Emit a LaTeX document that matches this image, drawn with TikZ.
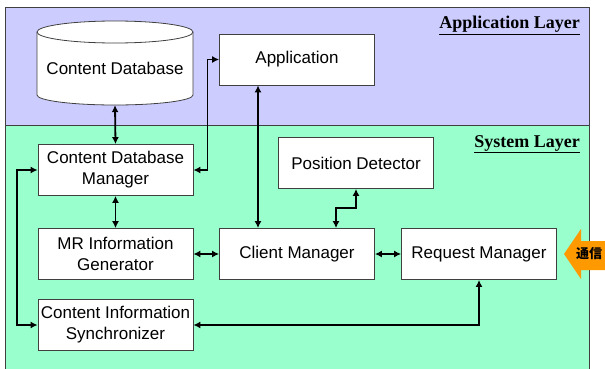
\documentclass[tikz,border=0pt]{standalone}
\usepackage{fontspec}
\setmainfont{Liberation Sans}
\newfontfamily\layerfont{Liberation Serif}
\newfontfamily\cjk{Noto Sans CJK JP}
\usetikzlibrary{arrows.meta}
\definecolor{applayer}{RGB}{204,204,255}
\definecolor{syslayer}{RGB}{153,255,204}
\definecolor{boxgray}{RGB}{64,64,64}
\definecolor{arroworange}{RGB}{255,153,0}
\tikzset{
  box/.style={draw=boxgray, fill=white, line width=0.8pt, minimum width=155pt,
    minimum height=51pt, inner sep=0pt, align=center,
    font=\fontsize{17}{21}\selectfont},
  conn/.style={line width=1.8pt, {Latex[length=7pt,width=7pt]}-{Latex[length=7pt,width=7pt]}},
  layerlabel/.style={anchor=base east, inner sep=0pt, font=\layerfont\bfseries\fontsize{18}{20}\selectfont}
}
\begin{document}
\begin{tikzpicture}[x=1pt,y=-1pt]
\useasboundingbox (0,0) rectangle (605,369);
% layers
\fill[applayer] (5,7) rectangle (589,125);
\fill[syslayer] (5,125) rectangle (589,380);
\draw[boxgray, line width=0.8pt] (5,125) -- (589,125);
\draw[boxgray, line width=0.8pt] (5,380) -- (5,7) -- (589,7) -- (589,380);
\node[layerlabel] (applbl) at (580,29) {\underline{Application Layer}};
\node[layerlabel] (syslbl) at (580,147) {\underline{System Layer}};
% cylinder
\path[fill=white] (37,32) -- (37,95) arc[start angle=180, end angle=360, x radius=78pt, y radius=10pt] -- (193,32) arc[start angle=0, end angle=180, x radius=78pt, y radius=11pt] -- cycle;
\draw[boxgray, line width=0.8pt] (37,32) -- (37,95) arc[start angle=180, end angle=360, x radius=78pt, y radius=10pt] -- (193,32);
\draw[boxgray, line width=0.8pt] (115,32) ellipse[x radius=78pt, y radius=11pt];
\node[inner sep=0pt, minimum width=156pt, minimum height=74pt, font=\fontsize{17}{21}\selectfont] (cdb) at (115,68) {Content Database};
% boxes
\node[box] (app) at (297,59.5) {Application};
\node[box] (cdm) at (115.5,170) {Content Database\\Manager};
\node[box] (pd) at (356,163) {Position Detector};
\node[box] (mrig) at (115.5,254) {MR Information\\Generator};
\node[box] (cm) at (297,254) {Client Manager};
\node[box] (rm) at (479,254) {Request Manager};
\node[box] (cis) at (115.5,325) {Content Information\\Synchronizer};
% connectors
\draw[conn] (cdb.south) -- (cdm.north);
\draw[conn] (cdm.east) -- ++(14,0) |- (app.west);
\draw[conn] ([xshift=-39pt]app.south) -- ([xshift=-39pt]cm.north);
\draw[conn] (cdm.south) -- (mrig.north);
\draw[conn] (mrig.east) -- (cm.west);
\draw[conn] (cm.east) -- (rm.west);
\draw[conn] ([xshift=39pt]cm.north) -- ++(0,-20) -| (pd.south);
\draw[conn] (cdm.west) -- ++(-21,0) |- (cis.west);
\draw[conn] (cis.east) -| (rm.south);
% orange arrow
\fill[arroworange] (564,254) -- (581,229) -- (581,241) -- (612,241) -- (612,270) -- (581,270) -- (581,279) -- cycle;
\node[inner sep=0pt, font=\cjk\bfseries\fontsize{13}{13}\selectfont] (tsushin) at (589,254) {通信};
\end{tikzpicture}
\end{document}
